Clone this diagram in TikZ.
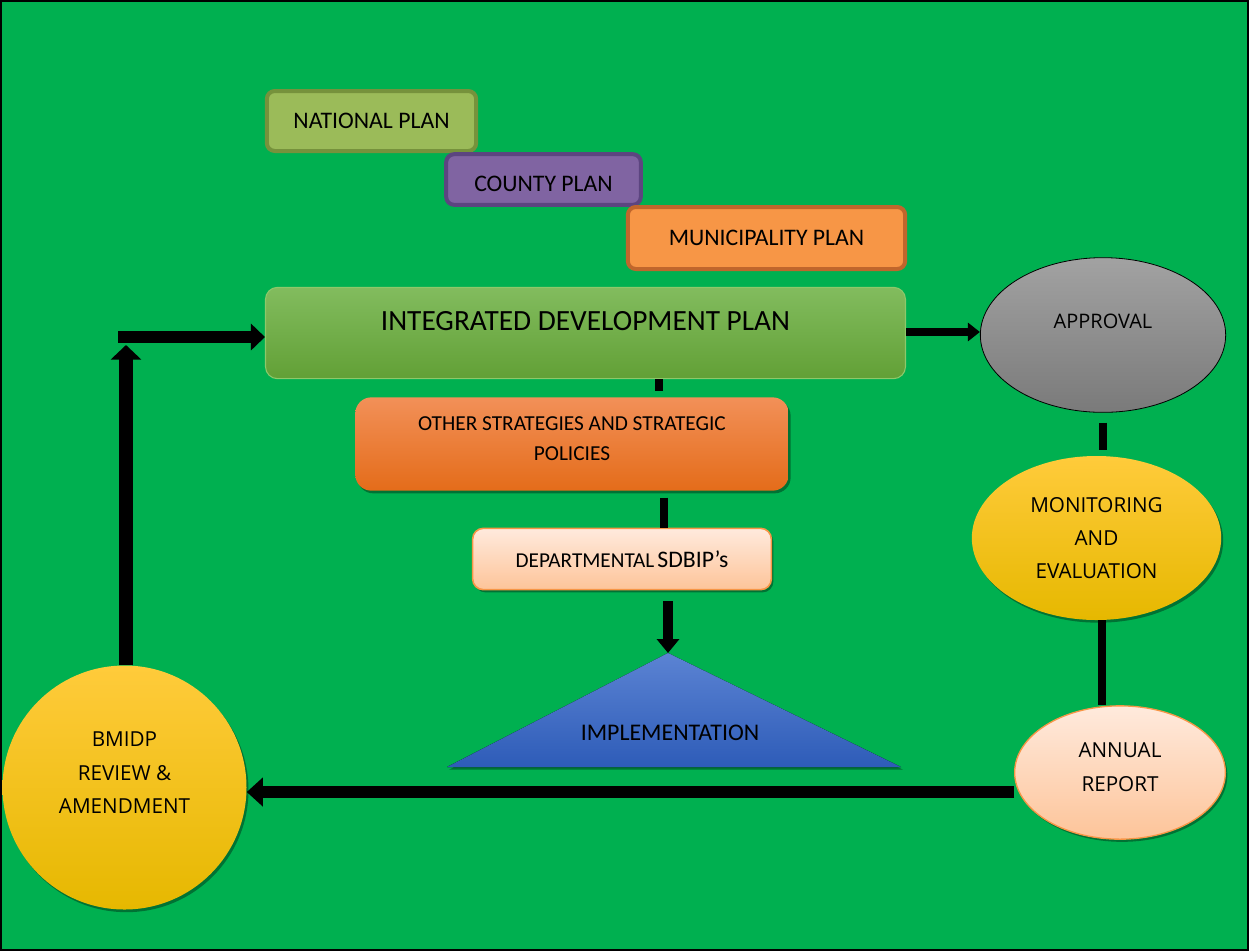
\documentclass[tikz,border=0pt]{standalone}
\usepackage{fontspec}
\setmainfont{Carlito}
\newfontfamily\osans{Open Sans}
\usetikzlibrary{arrows.meta,shadows,calc,shapes.geometric}
\definecolor{bg}{HTML}{00B050}
\definecolor{natf}{HTML}{9BBB59}
\definecolor{natd}{HTML}{76923C}
\definecolor{couf}{HTML}{8064A2}
\definecolor{coud}{HTML}{5C4580}
\definecolor{munf}{HTML}{F79646}
\definecolor{mund}{HTML}{C0662C}
\definecolor{idpt}{HTML}{82BC5E}
\definecolor{idpb}{HTML}{62A036}
\definecolor{idpd}{HTML}{8DC86A}
\definecolor{ost}{HTML}{F29058}
\definecolor{osm}{HTML}{F47F2A}
\definecolor{osb}{HTML}{E46C1A}
\definecolor{pcht}{HTML}{FFEADD}
\definecolor{pchb}{HTML}{FDC499}
\definecolor{pchd}{HTML}{F79646}
\definecolor{blt}{HTML}{5B83D3}
\definecolor{blb}{HTML}{2E5CB8}
\definecolor{grt}{HTML}{A2A2A2}
\definecolor{grb}{HTML}{7A7A7A}
\definecolor{yet}{HTML}{FFCB3B}
\definecolor{yem}{HTML}{FFC000}
\definecolor{yeb}{HTML}{E6B800}
\begin{document}
\begin{tikzpicture}[x=0.75pt,y=-0.75pt,
  shd/.style={drop shadow={shadow xshift=1.5pt,shadow yshift=-2pt,opacity=0.35,fill=black}},
  plan/.style={draw,line width=3pt,rounded corners=6pt,inner sep=0pt,font=\fontsize{17.8}{21}\selectfont},
  conn/.style={line width=6pt},
  eltext/.style={font=\osans\fontsize{15.5}{25}\selectfont,align=center}
]
\fill[bg] (0,0) rectangle (1249,951);
\draw[black,line width=1.5pt] (1,1) rectangle (1248,950);

% plan boxes
\node[plan,fill=natf,draw=natd,minimum width=157pt,minimum height=45pt] (nat) at (371.5,121) {NATIONAL PLAN};
\node[plan,fill=couf,draw=coud,minimum width=146pt,minimum height=38pt,
  label={[font=\fontsize{17.8}{21}\selectfont,yshift=-3pt]center:COUNTY PLAN}] (cou) at (543.5,179.5) {};
\node[plan,fill=munf,draw=mund,minimum width=208pt,minimum height=46.5pt] (mun) at (766.5,238) {MUNICIPALITY PLAN};

% IDP
\node[draw=idpd,line width=0.8pt,top color=idpt,bottom color=idpb,rounded corners=9pt,
  minimum width=480pt,minimum height=68.5pt,inner sep=0pt,
  label={[font=\fontsize{22}{26}\selectfont,yshift=9pt]center:INTEGRATED DEVELOPMENT PLAN}] (idp) at (585.5,333) {};

% other strategies
\node[shd,top color=ost,middle color=osm,bottom color=osb,rounded corners=12pt,
  minimum width=325pt,minimum height=70pt,inner sep=0pt,
  label={[font=\fontsize{16}{22.5}\selectfont,align=center,yshift=3.75pt]center:OTHER STRATEGIES AND STRATEGIC\\POLICIES}] (ost) at (572,444) {};

% departmental
\node[shd,draw=pchd,line width=1.2pt,top color=pcht,bottom color=pchb,rounded corners=8pt,
  minimum width=224pt,minimum height=46pt,inner sep=0pt] (dep) at (622,559)
  {{\fontsize{15.9}{19}\selectfont DEPARTMENTAL} {\fontsize{17.8}{21}\selectfont SDBIP’s}};

% implementation triangle
\coordinate (apex) at (668,653);
\fill[shd,top color=blt,bottom color=blb] (apex) -- (901,767) -- (447,767) -- cycle;
\node[font=\fontsize{17.9}{21}\selectfont] (impl) at (670,733) {IMPLEMENTATION};

% ellipses
\node[draw=black,line width=0.6pt,ellipse,top color=grt,bottom color=grb,
  minimum width=184pt,minimum height=116pt,inner sep=0pt,
  label={[eltext,font=\osans\fontsize{15}{20}\selectfont,yshift=10.5pt]center:APPROVAL}] (app) at (1103,335) {};
\node[shd,ellipse,top color=yet,middle color=yem,bottom color=yeb,
  minimum width=187pt,minimum height=123pt,inner sep=0pt,
  label={[eltext]center:MONITORING\\AND\\EVALUATION}] (mon) at (1096.5,538) {};
\node[shd,ellipse,draw=pchd,line width=1pt,top color=pcht,bottom color=pchb,
  minimum width=158pt,minimum height=100pt,inner sep=0pt,
  label={[eltext,yshift=4pt]center:ANNUAL\\REPORT}] (ann) at (1120,772.5) {};
\node[shd,ellipse,top color=yet,middle color=yem,bottom color=yeb,
  minimum width=183pt,minimum height=183pt,inner sep=0pt,
  label={[eltext,yshift=11pt]center:BMIDP\\REVIEW \&\\AMENDMENT}] (bm) at (124.5,787.5) {};

% helper coordinates
\coordinate (x659) at (659,0);
\coordinate (x664) at (664,0);
\coordinate (x668) at (668,0);
\coordinate (x1103) at (1103,0);
\coordinate (x1102) at (1102,0);
\coordinate (y332) at (0,332);
\coordinate (y792) at (0,792);
\coordinate (x126) at (126,0);
\coordinate (turn) at (126,345);
\coordinate (hstart) at (118,337);

% connectors
\draw[conn,shorten >=4.5pt] (idp.south -| x659) -- (ost.north -| x659);
\draw[conn,line width=5.5pt,shorten <=5pt] (ost.south -| x664) -- (dep.north -| x664);
\draw[line width=7.5pt,-{Triangle[length=10.5pt,width=16.5pt]},shorten <=8pt] (dep.south -| x668) -- (apex);
\draw[conn,-{Triangle[length=9pt,width=13.5pt]}] (idp.east |- y332) -- (app.west |- y332);
\draw[conn,shorten <=7.5pt,shorten >=4.5pt] (app.south -| x1103) -- (mon.north -| x1103);
\draw[conn] (mon.south -| x1102) -- (ann.north -| x1102);
\draw[line width=9pt,-{Triangle[length=12pt,width=21pt]}] (ann.west |- y792) -- (bm.east |- y792);
\draw[line width=10.5pt,-{Triangle[length=11pt,width=22.5pt]}] (bm.north -| x126) -- (turn);
\draw[line width=9pt,-{Triangle[length=10.5pt,width=19.5pt]}] (hstart) -- (idp.west |- hstart);
\end{tikzpicture}
\end{document}
